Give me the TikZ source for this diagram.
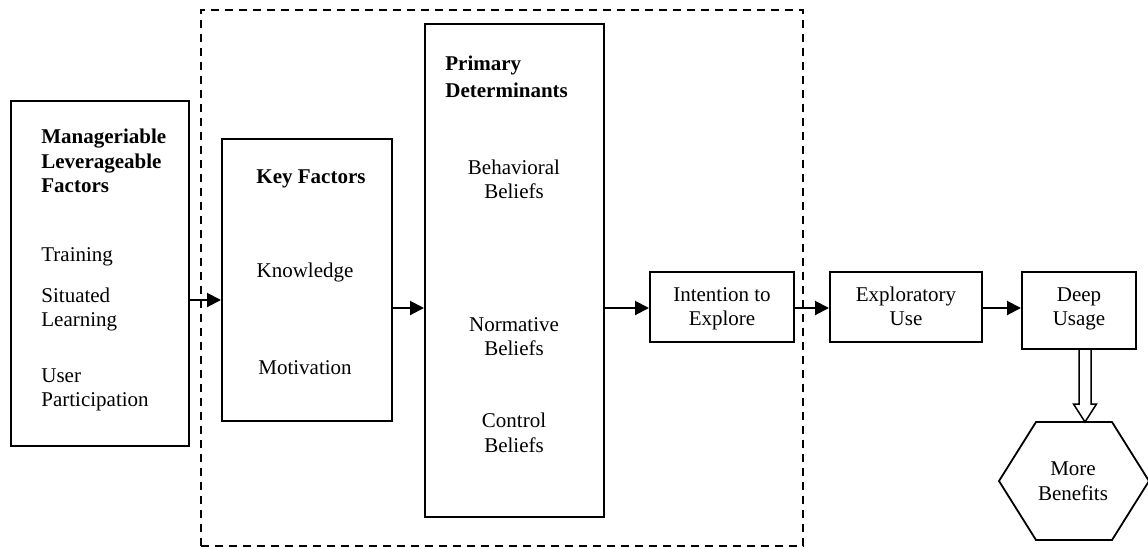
\documentclass[tikz,border=0pt]{standalone}
\usepackage{fontspec}
\setmainfont{Liberation Serif}
\usetikzlibrary{arrows.meta,calc}
\begin{document}
\begin{tikzpicture}[x=0.5pt,y=-0.5pt,
  box/.style={draw,line width=1pt,inner sep=0pt},
  grpframe/.style={draw,line width=0.8pt,dash pattern=on 4pt off 3pt,inner sep=0pt},
  txt/.style={inner sep=0pt,anchor=base,font=\fontsize{10.5}{12.5}\selectfont},
  ltxt/.style={txt,anchor=base west},
  btxt/.style={ltxt,font=\fontsize{10.5}{12.5}\selectfont\bfseries},
  arr/.style={line width=1pt,-{Triangle[length=7pt,width=7pt]}},
  fatarrow/.style={draw,line width=0.75pt,fill=white,line join=miter}]
\useasboundingbox (0,0) rectangle (1148,548);

% dashed grouping frame
\node[grpframe,minimum width=301pt,minimum height=268pt] (grp) at (502,278) {};

% boxes
\node[box,minimum width=89pt,minimum height=172.5pt] (mlf) at (100,273.5) {};
\node[box,minimum width=85pt,minimum height=141pt] (key) at (307,280) {};
\node[box,minimum width=89.5pt,minimum height=246.5pt] (prim) at (514.5,270.5) {};
\node[box,minimum width=72pt,minimum height=35pt] (intent) at (722,307) {};
\node[box,minimum width=76pt,minimum height=35pt] (explor) at (906,307) {};
\node[box,minimum width=57pt,minimum height=38.5pt] (deep) at (1079,310.5) {};

% hexagon
\coordinate (hexTL) at (1036,422);
\coordinate (hexTR) at (1112,422);
\coordinate (hexR) at (1149,481);
\coordinate (hexBR) at (1112,540);
\coordinate (hexBL) at (1036,540);
\coordinate (hexL) at (999,481);
\draw[line width=0.9pt,line join=miter] (hexTL) -- (hexTR) -- (hexR) -- (hexBR) -- (hexBL) -- (hexL) -- cycle;

% texts: leverageable factors
\node[btxt] (t1) at (41,143) {Manageriable};
\node[btxt] (t2) at (41,168) {Leverageable};
\node[btxt] (t3) at (41,192) {Factors};
\node[ltxt] (t4) at (41,261) {Training};
\node[ltxt] (t5) at (41,302) {Situated};
\node[ltxt] (t6) at (41,326) {Learning};
\node[ltxt] (t7) at (41,382) {User};
\node[ltxt] (t8) at (41,406) {Participation};

% texts: key factors
\node[txt,font=\fontsize{10.5}{12.5}\selectfont\bfseries] (k1) at (311,183) {Key Factors};
\node[txt] (k2) at (305,277) {Knowledge};
\node[txt] (k3) at (305,374) {Motivation};

% texts: primary determinants
\node[btxt] (p1) at (445,70) {Primary};
\node[btxt] (p2) at (445,97) {Determinants};
\node[txt] (p3) at (514,174) {Behavioral};
\node[txt] (p4) at (514,198) {Beliefs};
\node[txt] (p5) at (514,331) {Normative};
\node[txt] (p6) at (514,355) {Beliefs};
\node[txt] (p7) at (514,427) {Control};
\node[txt] (p8) at (514,452) {Beliefs};

% texts: outcome chain
\node[txt] (i1) at (722,301) {Intention to};
\node[txt] (i2) at (722,325) {Explore};
\node[txt] (e1) at (906,301) {Exploratory};
\node[txt] (e2) at (906,325) {Use};
\node[txt] (d1) at (1079,301) {Deep};
\node[txt] (d2) at (1079,325) {Usage};
\node[txt] (m1) at (1073,475) {More};
\node[txt] (m2) at (1073,500) {Benefits};

% connectors
\coordinate (ya) at (0,300);
\coordinate (yb) at (0,308);
\draw[arr] (mlf.east |- ya) -- (key.west |- ya);
\draw[arr] (key.east |- yb) -- (prim.west |- yb);
\draw[arr] (prim.east |- yb) -- (intent.west |- yb);
\draw[arr] (intent.east |- yb) -- (explor.west |- yb);
\draw[arr] (explor.east |- yb) -- (deep.west |- yb);

% hollow block arrow from deep usage down to the hexagon
\coordinate (ht) at (1085,422);
\coordinate (ds) at (deep.south -| ht);
\draw[fatarrow] ($(ds)+(-6,0)$) -- ($(ht)+(-6,-18)$) -- ($(ht)+(-11.5,-18)$) -- (ht)
  -- ($(ht)+(11.5,-18)$) -- ($(ht)+(6,-18)$) -- ($(ds)+(6,0)$);
\end{tikzpicture}
\end{document}
